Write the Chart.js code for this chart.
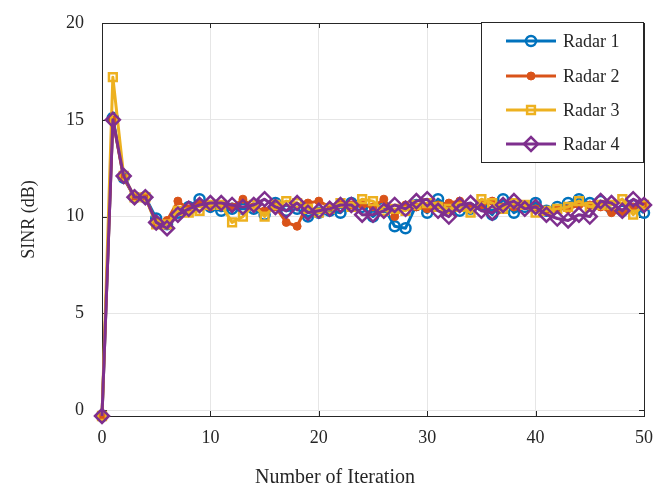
<!DOCTYPE html>
<html><head><meta charset="utf-8">
<script src="https://cdn.jsdelivr.net/npm/chart.js@4/dist/chart.umd.min.js"></script>
<style>html,body{margin:0;padding:0;background:#fff}#wrap{position:relative;width:661px;height:490px}</style>
</head><body><div id="wrap"><canvas id="c" width="661" height="490"></canvas></div>
<script>
const iterations=[0,1,2,3,4,5,6,7,8,9,10,11,12,13,14,15,16,17,18,19,20,21,22,23,24,25,26,27,28,29,30,31,32,33,34,35,36,37,38,39,40,41,42,43,44,45,46,47,48,49,50];
const radar1=[-0.3,15.1,12.0,11.0,11.0,9.9,9.6,10.2,10.5,10.9,10.5,10.3,10.4,10.4,10.4,10.1,10.7,10.3,10.4,10.0,10.2,10.3,10.2,10.7,10.5,10.0,10.5,9.5,9.4,10.6,10.2,10.9,10.5,10.3,10.4,10.6,10.1,10.9,10.2,10.5,10.7,10.3,10.5,10.7,10.9,10.7,10.8,10.4,10.3,10.6,10.2];
const radar2=[-0.3,15.0,12.0,11.0,11.0,9.7,9.8,10.8,10.4,10.7,10.5,10.6,10.5,10.9,10.5,10.3,10.5,9.7,9.5,10.7,10.8,10.5,10.7,10.6,10.6,10.5,10.9,10.0,10.6,10.5,10.4,10.6,10.7,10.8,10.5,10.6,10.8,10.5,10.5,10.6,10.4,10.3,10.4,10.4,10.6,10.6,10.5,10.2,10.2,10.5,10.6];
const radar3=[-0.3,17.2,12.1,11.0,11.0,9.6,9.6,10.3,10.2,10.3,10.6,10.6,9.7,10.0,10.6,10.0,10.6,10.8,10.7,10.4,10.2,10.4,10.7,10.5,10.9,10.8,10.3,10.4,10.3,10.6,10.7,10.5,10.4,10.5,10.2,10.9,10.7,10.4,10.7,10.6,10.2,10.3,10.4,10.5,10.8,10.5,10.6,10.6,10.9,10.1,10.6];
const radar4=[-0.3,15.0,12.1,11.0,11.0,9.7,9.4,10.1,10.4,10.6,10.7,10.7,10.6,10.5,10.6,10.9,10.5,10.3,10.7,10.2,10.3,10.4,10.6,10.6,10.1,10.1,10.3,10.6,10.4,10.8,10.9,10.3,10.0,10.6,10.7,10.3,10.2,10.6,10.8,10.4,10.5,10.1,9.9,9.8,10.1,10.0,10.8,10.7,10.3,10.9,10.6];
const seriesNames=['Radar 1','Radar 2','Radar 3','Radar 4'];
const xTicks=[0,10,20,30,40,50];
const yTicks=[0,5,10,15,20];
const xTitle='Number of Iteration';
const yTitle='SINR (dB)';

const FONT='"Liberation Serif", "Times New Roman", serif';
const TXT='#262626';
const colors=['#0072BD','#D95319','#EDB120','#7E2F8E'];
const styles=[
  {pointStyle:'circle',pointRadius:5,pointBorderWidth:2.5,bg:'rgba(0,0,0,0)'},
  {pointStyle:'circle',pointRadius:4,pointBorderWidth:1,bg:null},
  {pointStyle:'rect',pointRadius:5.5,pointBorderWidth:2.5,bg:'rgba(0,0,0,0)'},
  {pointStyle:'rectRot',pointRadius:7,pointBorderWidth:2.5,bg:'rgba(0,0,0,0)'}
];
const allSeries=[radar1,radar2,radar3,radar4];
const datasets=allSeries.map((s,i)=>({
  label:seriesNames[i],
  data:iterations.map((x,j)=>({x:x,y:s[j]})),
  borderColor:colors[i],
  backgroundColor:colors[i],
  borderWidth:3,
  pointStyle:styles[i].pointStyle,
  pointRadius:styles[i].pointRadius,
  pointBorderWidth:styles[i].pointBorderWidth,
  pointBackgroundColor:styles[i].bg||colors[i],
  pointBorderColor:colors[i],
  tension:0,
  clip:false,
  order:4-i
}));

const AREA={left:102,top:23,right:644,bottom:416};

const framePlugin={
  id:'frame',
  afterLayout(chart){
    const a=chart.chartArea;
    a.left=AREA.left;a.top=AREA.top;a.right=AREA.right;a.bottom=AREA.bottom;
    a.width=a.right-a.left;a.height=a.bottom-a.top;
    const y=chart.scales.y;
    y.top=AREA.top;y.bottom=AREA.bottom;y.height=y.bottom-y.top;y.right=AREA.left;y.left=0;y.width=AREA.left;y.configure();
    const x=chart.scales.x;
    x.left=AREA.left;x.right=AREA.right;x.width=x.right-x.left;x.top=AREA.bottom;x.bottom=490;x.height=490-AREA.bottom;x.configure();
  },
  beforeDatasetsDraw(chart){
    const {ctx,chartArea:a,scales}=chart;
    ctx.save();
    ctx.strokeStyle=TXT;ctx.lineWidth=1;
    ctx.strokeRect(Math.round(a.left)+0.5,Math.round(a.top)+0.5,Math.round(a.right-a.left),Math.round(a.bottom-a.top));
    const L=5;
    ctx.beginPath();
    xTicks.forEach(v=>{const p=Math.round(scales.x.getPixelForValue(v))+0.5;
      ctx.moveTo(p,a.bottom);ctx.lineTo(p,a.bottom-L);ctx.moveTo(p,a.top);ctx.lineTo(p,a.top+L);});
    yTicks.forEach(v=>{const p=Math.round(scales.y.getPixelForValue(v))+0.5;
      ctx.moveTo(a.left,p);ctx.lineTo(a.left+L,p);ctx.moveTo(a.right,p);ctx.lineTo(a.right-L,p);});
    ctx.stroke();
    ctx.fillStyle=TXT;ctx.font='20px '+FONT;ctx.textAlign='center';ctx.textBaseline='middle';
    ctx.fillText(xTitle,335,478);
    ctx.restore();
  },
  afterDraw(chart){
    const ctx=chart.ctx;
    const bx=481.5,by=22.5,bw=162,bh=140;
    ctx.save();
    ctx.fillStyle='#fff';ctx.fillRect(bx,by,bw,bh);
    ctx.strokeStyle=TXT;ctx.lineWidth=1;ctx.strokeRect(bx,by,bw,bh);
    const rows=[41,76,110,144];
    chart.data.datasets.forEach((d,i)=>{
      const y=rows[i];
      ctx.strokeStyle=d.borderColor;ctx.lineWidth=3;
      ctx.beginPath();ctx.moveTo(506,y);ctx.lineTo(556,y);ctx.stroke();
      ctx.fillStyle=d.pointBackgroundColor;ctx.strokeStyle=d.pointBorderColor;ctx.lineWidth=d.pointBorderWidth;
      Chart.helpers.drawPoint(ctx,{pointStyle:d.pointStyle,radius:d.pointRadius,rotation:0,borderWidth:d.pointBorderWidth},531,y);
      ctx.fillStyle=TXT;ctx.font='18px '+FONT;ctx.textBaseline='middle';ctx.textAlign='left';
      ctx.fillText(d.label,563,y+1);
    });
    ctx.restore();
  }
};

new Chart(document.getElementById('c'),{
  type:'line',
  data:{datasets},
  options:{
    responsive:false,animation:false,
    layout:{padding:{top:23,right:17,left:0,bottom:0}},
    plugins:{legend:{display:false},tooltip:{enabled:false}},
    elements:{line:{borderJoinStyle:'round'}},
    scales:{
      x:{type:'linear',min:0,max:50,
        afterFit(s){s.height=74;},
        afterBuildTicks(s){s.ticks=xTicks.map(v=>({value:v}));},
        grid:{color:'#e6e6e6',drawTicks:false,lineWidth:1},
        border:{display:false},
        ticks:{padding:11,color:TXT,font:{family:FONT,size:18},maxRotation:0},
        title:{display:false}
      },
      y:{type:'linear',min:-0.3,max:20,
        afterFit(s){s.width=102;},
        afterBuildTicks(s){s.ticks=yTicks.map(v=>({value:v}));},
        grid:{color:'#e6e6e6',drawTicks:false,lineWidth:1},
        border:{display:false},
        ticks:{padding:18,color:TXT,font:{family:FONT,size:18}},
        title:{display:true,text:yTitle,color:TXT,font:{family:FONT,size:18},padding:{top:18,bottom:0}}
      }
    }
  },
  plugins:[framePlugin]
});
</script></body></html>
